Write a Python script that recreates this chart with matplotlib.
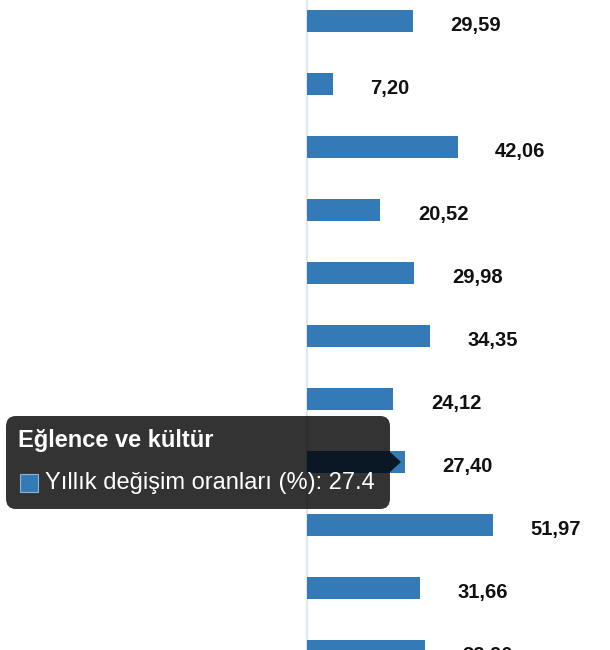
import matplotlib.pyplot as plt
from matplotlib.patches import FancyBboxPatch, Polygon, Rectangle

plt.rcParams['font.family'] = ['Liberation Sans', 'DejaVu Sans']

# -----------------------------
# Data
# -----------------------------
values = [29.59, 7.20, 42.06, 20.52, 29.98, 34.35, 24.12, 27.40, 51.97, 31.66, 32.90]
labels = [f"{v:.2f}".replace(".", ",") for v in values]

hover_index = 7
hover_category = "Eğlence ve kültür"
series_name = "Yıllık değişim oranları (%)"

bar_color = "#337ab7"

W, H = 610, 650
fig = plt.figure(figsize=(W / 100, H / 100), dpi=100)
ax = fig.add_axes([0, 0, 1, 1])

# -----------------------------
# Bars
# -----------------------------
pos = list(range(len(values)))
ax.barh(pos, values, height=0.34, color=bar_color, zorder=2)
ax.axvline(0, color="#e3e8f0", lw=1.6, zorder=1)

for i, v in enumerate(values):
    ax.annotate(labels[i], (v, i), xytext=(27, -3), textcoords="offset points",
                ha="left", va="center", fontsize=14.5, fontweight="bold",
                color="#111111", annotation_clip=False)

px_per_unit = 3.58
ax.set_xlim(-307 / px_per_unit, (W - 307) / px_per_unit)
ax.set_ylim((H - 21) / 63, -21 / 63)
ax.axis("off")


# -----------------------------
# Tooltip
# -----------------------------
def fx(x):
    return x / W


def fy(y):
    return 1 - y / H


tip_bg = (0, 0, 0, 0.8)
box = FancyBboxPatch((fx(6), fy(509)), fx(384), 93 / H,
                     boxstyle="round,pad=0,rounding_size=0.016",
                     transform=fig.transFigure, facecolor=tip_bg,
                     edgecolor="none", zorder=5)
fig.add_artist(box)
caret = Polygon([(fx(390), fy(452)), (fx(401), fy(462)), (fx(390), fy(472))],
                closed=True, transform=fig.transFigure, facecolor=tip_bg,
                edgecolor="none", zorder=5)
fig.add_artist(caret)

fig.text(fx(18), fy(440), hover_category, ha="left", va="center",
         fontsize=17, fontweight="bold", color="white", zorder=6)
fig.add_artist(Rectangle((fx(20), fy(492)), fx(18), 18 / H,
                         transform=fig.transFigure, facecolor=bar_color,
                         edgecolor="#8fb3d6", lw=0.8, zorder=6))
fig.text(fx(45), fy(483), f"{series_name}: {values[hover_index]:g}",
         ha="left", va="center", fontsize=17, color="white", zorder=6)

plt.savefig("out.png", dpi=100)
plt.close()
